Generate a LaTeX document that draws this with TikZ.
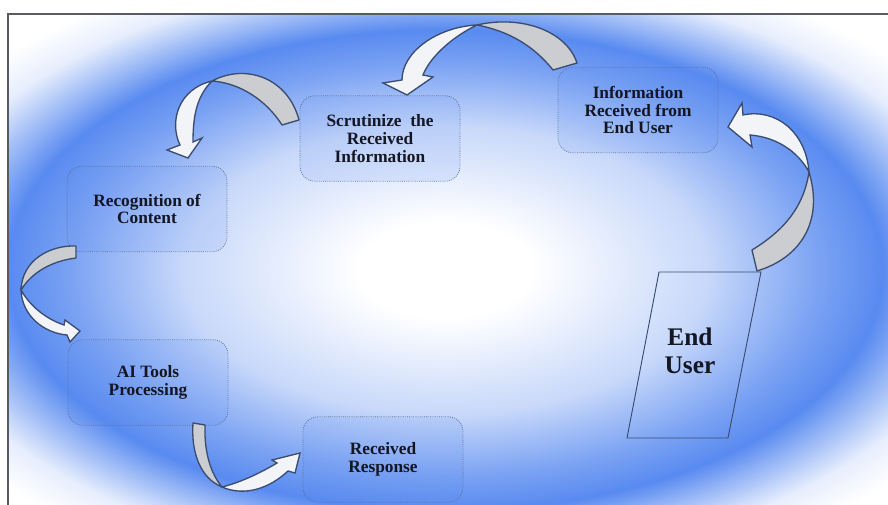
\documentclass[tikz,border=0pt]{standalone}
\usepackage{fontspec}
\setmainfont{Liberation Serif}
\definecolor{bgblue}{RGB}{88,138,240}
\definecolor{edgecol}{RGB}{58,76,112}
\definecolor{boxedge}{RGB}{95,112,150}
\definecolor{backgray}{RGB}{204,205,208}
\definecolor{frontwhite}{RGB}{243,244,247}
\definecolor{framecol}{RGB}{90,90,98}
\definecolor{txt}{RGB}{20,22,35}
\pgfdeclareradialshading{bgshade}{\pgfpoint{0bp}{0bp}}{color(0bp)=(white); color(3.3bp)=(white); color(10bp)=(bgblue!33!white); color(14.2bp)=(bgblue!78!white); color(16.7bp)=(bgblue); color(18.4bp)=(bgblue!60!white); color(20.4bp)=(bgblue!15!white); color(22.5bp)=(white); color(50bp)=(white)}
\tikzset{
  procbox/.style={draw=boxedge, densely dotted, line width=0.6pt, rounded corners=11pt,
    fill=bgblue, fill opacity=0.12, text opacity=1, minimum width=120pt, minimum height=64pt,
    align=center, font=\bfseries\fontsize{13}{13.2}\selectfont, text=txt},
  eutext/.style={align=center, font=\bfseries\fontsize{19}{21}\selectfont, text=txt},
  eushape/.style={draw=edgecol, line width=0.7pt},
  backside/.style={fill=backgray, draw=edgecol, line width=1pt, line join=round},
  frontside/.style={fill=frontwhite, draw=edgecol, line width=1pt, line join=miter},
  framestyle/.style={draw=framecol, line width=1pt}
}
\begin{document}
\begin{tikzpicture}[x=0.75pt,y=-0.75pt]
\useasboundingbox (0,0) rectangle (888,505);
\fill[white] (0,0) rectangle (888,505);
\begin{scope}
  \clip (8,14) rectangle (889,506);
  \shade[shading=bgshade] (-210,-90) rectangle (1100,630);
\end{scope}
\draw[framestyle] (8,506) -- (8,14) -- (889,14);

% process boxes
\node[procbox] (info) at (638,110) {Information\\Received from\\End User};
\node[procbox] (scr)  at (380,138.5) {Scrutinize\ \ the\\Received\\Information};
\node[procbox] (rec)  at (147,209) {Recognition of\\Content};
\node[procbox] (ai)   at (148,382.5) {AI Tools\\Processing};
\node[procbox] (resp) at (383,459.5) {Received\\Response};

% end user parallelogram
\draw[eushape] (659,272) -- (761,272) -- (728,438) -- (627,438) -- cycle;
\node[eutext] (eu) at (690,351) {End\\User};

% arrow: End User -> Information
\draw[backside] (809,172) .. controls (824,222) and (800,258) .. (757,271) -- (752,250) .. controls (778,234) and (803,212) .. (809,172) -- cycle;
\draw[frontside] (809,172) .. controls (806,132) and (776,108) .. (743,115) -- (742,103) -- (728,127) -- (752,147) -- (750,135) .. controls (775,137) and (797,150) .. (809,172) -- cycle;

% arrow: Information -> Scrutinize
\draw[backside] (477,25) .. controls (520,15) and (566,30) .. (577,63) -- (553,70) .. controls (533,45) and (508,31) .. (477,25) -- cycle;
\draw[frontside] (477,25) .. controls (437,27) and (402,52) .. (402,80) -- (383,83) -- (407,95) -- (433,77) -- (423,75) .. controls (430,57) and (452,37) .. (477,25) -- cycle;

% arrow: Scrutinize -> Recognition
\draw[backside] (212,81) .. controls (246,63) and (288,78) .. (299,120) -- (282,125) .. controls (266,100) and (240,83) .. (212,81) -- cycle;
\draw[frontside] (212,81) .. controls (178,89) and (169,122) .. (180,145) -- (167,150) -- (188,158) -- (202,138) -- (193,142) .. controls (193,115) and (197,96) .. (212,81) -- cycle;

% arrow: Recognition -> AI Tools
\draw[backside] (21,290) .. controls (22,260) and (50,245) .. (76,246) -- (76,258) .. controls (52,261) and (32,272) .. (21,290) -- cycle;
\draw[frontside] (21,290) .. controls (22,316) and (44,333) .. (67,335) -- (70,342) -- (80,331) -- (65,320) -- (64,325) .. controls (46,319) and (30,306) .. (21,290) -- cycle;

% arrow: AI Tools -> Received Response
\draw[backside] (222,487) .. controls (200,478) and (191,452) .. (193,423) -- (205,425) .. controls (204,455) and (212,475) .. (222,487) -- cycle;
\draw[frontside] (222,487) .. controls (242,482) and (262,472) .. (277,463) -- (272,460) -- (300,453) -- (295,473) -- (288,471) .. controls (270,488) and (245,497) .. (222,487) -- cycle;
\end{tikzpicture}
\end{document}
